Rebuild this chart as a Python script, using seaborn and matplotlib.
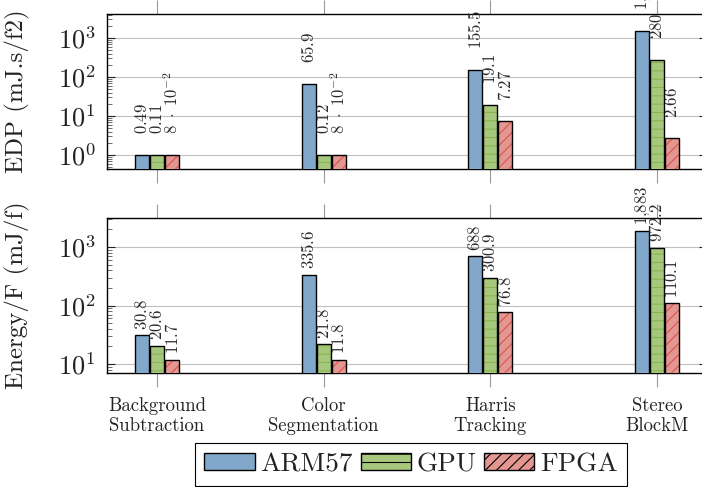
import numpy as np
import pandas as pd
import seaborn as sns
import matplotlib.pyplot as plt
from matplotlib.patches import Rectangle
from matplotlib.ticker import LogLocator, NullFormatter

# data
tasks = ["Background\nSubtraction", "Color\nSegmentation", "Harris\nTracking", "Stereo\nBlockM"]
platforms = ["ARM57", "GPU", "FPGA"]

# EDP: bars below 1 are drawn at 1 in the original figure
edp_arm = [1, 65.9, 155.5, 1510]
edp_gpu = [1, 1, 19.1, 280]
edp_fpga = [1, 1, 7.27, 2.66]
edp_arm_lbl = ["0.49", "65.9", "155.5", "1,510"]
edp_gpu_lbl = ["0.11", "0.12", "19.1", "280"]
edp_fpga_lbl = [r"8\ \cdot\ 10^{-2}", r"8\ \cdot\ 10^{-2}", "7.27", "2.66"]

# energy per frame
en_arm = [30.8, 335.6, 688, 1883]
en_gpu = [20.6, 21.8, 300.9, 972.2]
en_fpga = [11.7, 11.8, 76.8, 110.1]
en_arm_lbl = ["30.8", "335.6", "688", "1,883"]
en_gpu_lbl = ["20.6", "21.8", "300.9", "972.2"]
en_fpga_lbl = ["11.7", "11.8", "76.8", "110.1"]

colors = ["#74a9d8", "#a9d46f", "#f28b82"]
hatches = [None, "--", "///"]
hatch_colors = [None, "#86b84e", "#d9534f"]

sns.set_theme(style="white")
plt.rcParams["font.family"] = ["cmr10"]
plt.rcParams["mathtext.fontset"] = "cm"
plt.rcParams["axes.formatter.use_mathtext"] = True
plt.rcParams["axes.unicode_minus"] = False
plt.rcParams["hatch.linewidth"] = 0.8


def long_df(arm, gpu, fpga):
    rows = []
    for vals, p in zip([arm, gpu, fpga], platforms):
        for t, v in zip(tasks, vals):
            rows.append({"task": t, "platform": p, "value": v})
    return pd.DataFrame(rows)


def tt(s):
    # typewriter look like the pgfplots labels
    if "\\" not in s:
        s = s.replace(",", "{,}")
    return r"$\mathtt{" + s + "}$"


def panel(ax, df, labels, ylim, ylabel, lbl_off, show_x):
    sns.barplot(data=df, x="task", y="value", hue="platform", order=tasks,
                hue_order=platforms, palette=colors, width=0.27, gap=0.06,
                errorbar=None, edgecolor="black", linewidth=1, ax=ax,
                legend=show_x, zorder=3)
    ax.set_yscale("log")
    ax.set_ylim(*ylim)
    ax.set_xlim(-0.3, 3.3)
    ax.yaxis.set_major_locator(LogLocator(base=10, numticks=12))
    ax.yaxis.set_minor_locator(LogLocator(base=10, subs=np.arange(2, 10), numticks=12))
    ax.yaxis.set_minor_formatter(NullFormatter())
    for k, cont in enumerate(ax.containers):
        for j, p in enumerate(cont.patches):
            if hatches[k]:
                p.set_hatch(hatches[k])
                p.set_edgecolor(hatch_colors[k])
                p.set_linewidth(0)
                ax.add_patch(Rectangle((p.get_x(), p.get_y()), p.get_width(), p.get_height(),
                                       fill=False, edgecolor="black", lw=1, zorder=4))
            ax.annotate(tt(labels[k][j]), xy=(p.get_x() + p.get_width() / 2, p.get_height()),
                        xytext=(0, lbl_off), textcoords="offset points", rotation=90,
                        ha="center", va="bottom", fontsize=12,
                        color="#2a2a2a", annotation_clip=False)
    ax.yaxis.grid(True, which="major", color="#c0c0c0", lw=0.8)
    ax.set_axisbelow(True)
    for s in ax.spines.values():
        s.set_color("black")
        s.set_linewidth(1)
    ax.tick_params(axis="y", which="major", direction="in", length=6, width=0.8,
                   left=True, right=True, labelsize=19, pad=8, colors="#222222")
    ax.tick_params(axis="y", which="minor", direction="in", length=3.5, width=0.6,
                   left=True, right=True, color="#555555")
    ax.tick_params(axis="x", which="major", direction="out", length=10, width=0.8,
                   color="#999999", top=True, bottom=True, labelbottom=show_x,
                   labelsize=13.5, pad=7, labelcolor="#222222")
    ax.set_xlabel("")
    ax.set_ylabel(ylabel, fontsize=18, color="#222222")
    ax.yaxis.set_label_coords(-0.128, 0.5)


fig = plt.figure(figsize=(7.02, 4.87), dpi=100)
ax1 = fig.add_axes([107 / 702, 1 - 169 / 487, 600 / 702, 155 / 487])
ax2 = fig.add_axes([107 / 702, 1 - 373 / 487, 600 / 702, 155 / 487])

panel(ax1, long_df(edp_arm, edp_gpu, edp_fpga),
      [edp_arm_lbl, edp_gpu_lbl, edp_fpga_lbl], (0.438, 4120),
      "EDP (mJ.s/f2)", 15, False)
panel(ax2, long_df(en_arm, en_gpu, en_fpga),
      [en_arm_lbl, en_gpu_lbl, en_fpga_lbl], (7.02, 3130),
      "Energy/F (mJ/f)", 4, True)

handles, lbls = ax2.get_legend_handles_labels()
ax2.get_legend().remove()
for h, ht in zip(handles, hatches):
    if ht:
        h.set_hatch(ht)
leg = fig.legend(handles, lbls, loc="upper center", ncol=3,
                 bbox_to_anchor=(411 / 702, 1 - 443 / 487), bbox_transform=fig.transFigure,
                 fontsize=19.5, handlelength=1.85, handleheight=0.55, handletextpad=0.2,
                 columnspacing=0.3, borderpad=0.35, borderaxespad=0, fancybox=False,
                 framealpha=1, edgecolor="black")
leg.get_frame().set_linewidth(0.8)
for t in leg.get_texts():
    t.set_color("#222222")

fig.savefig("out.png", dpi=100)
